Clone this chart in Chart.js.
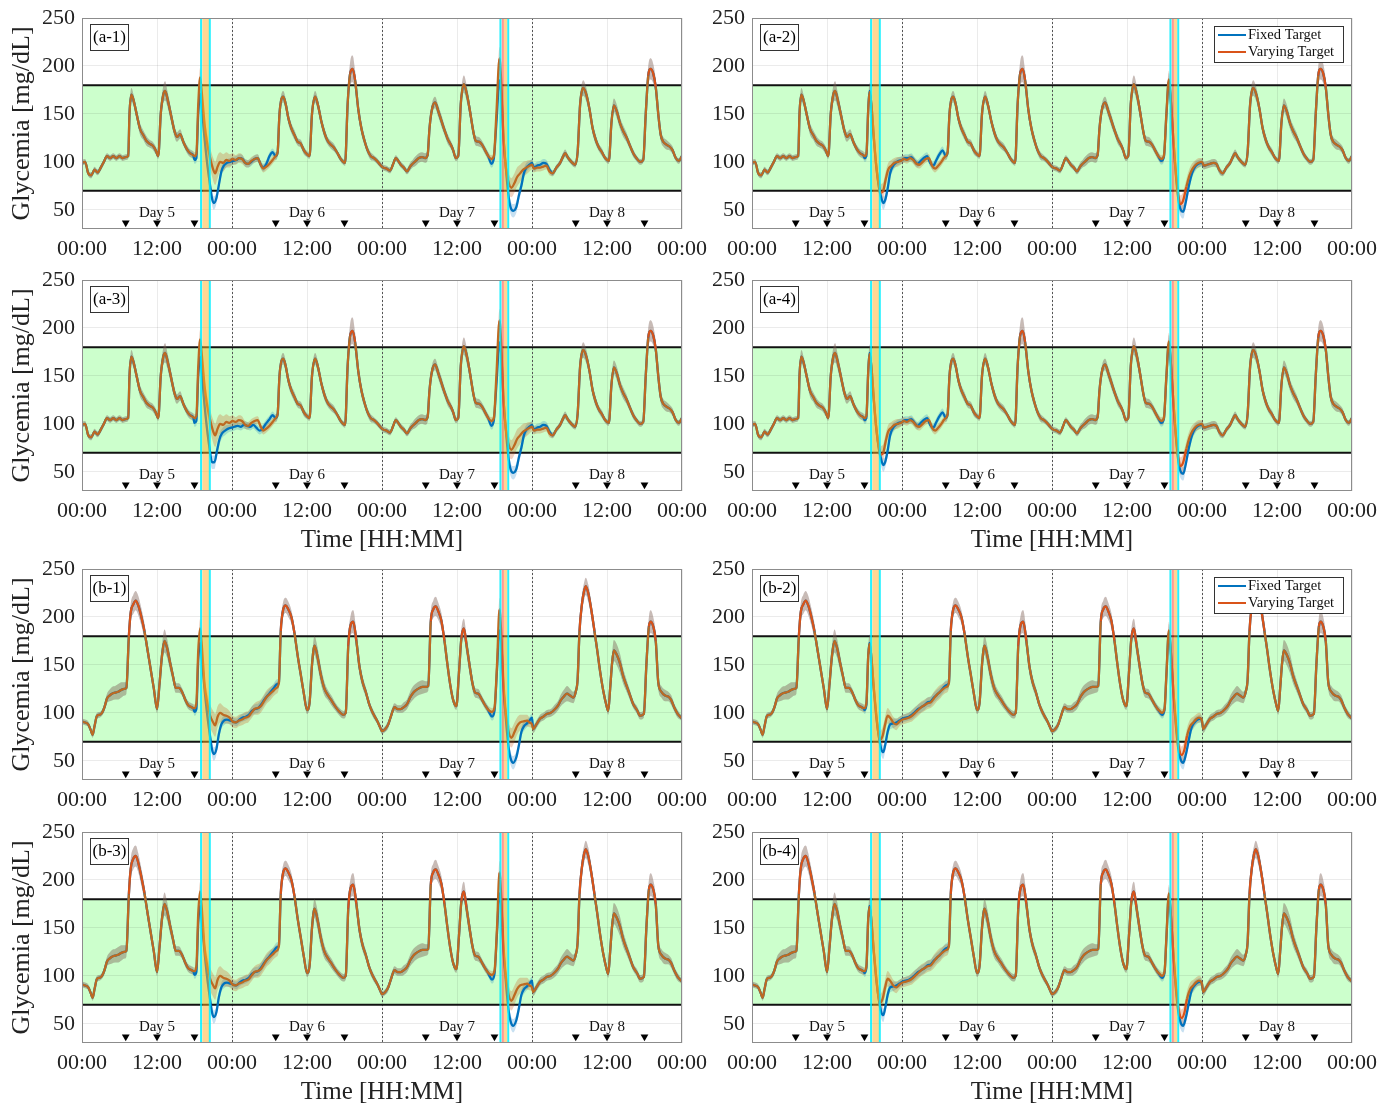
<!DOCTYPE html>
<html>
<head>
<meta charset="utf-8">
<script src="https://cdn.jsdelivr.net/npm/chart.js@4.4.0/dist/chart.umd.min.js"></script>
<style>
  body { margin: 0; background: #fff; width: 1390px; height: 1106px; overflow: hidden; position: relative; }
  canvas { position: absolute; }
</style>
</head>
<body>
<script>
// ---- axes ----
const xTickHours = [0, 12, 24, 36, 48, 60, 72, 84, 96];
const xTickLabels = ['00:00', '12:00', '00:00', '12:00', '00:00', '12:00', '00:00', '12:00', '00:00'];
const yTickValues = [50, 100, 150, 200, 250];
const midnightHours = [24, 48, 72];
const dayLabelHours = [12, 36, 60, 84];
const dayLabels = ['Day 5', 'Day 6', 'Day 7', 'Day 8'];
const mealHours = [7, 12, 18, 31, 36, 42, 55, 60, 66, 79, 84, 90];
const targetRange = [70, 180];

// exercise windows (hours)
const cyanEdges = [19.05, 20.45, 66.95, 68.2];
const amberSpans = [[19.25, 20.35], [67.5, 68.05]];
const redSpans = [[67.15, 67.5]];

// ---- glucose curves: [hour, mean, spread] ----
const scenarioA = [
  [0,99,3],[0.5,100,3],[1,88,3],[1.5,86,3],[2,92,3],[2.5,89,3],[3,94,3],[3.5,100,3],[4,106,3],[4.5,104,3],[5,106,3],[5.5,104,3],[6,106,3],[6.5,104,3],[7,105,3],[7.4,106,3],
  [7.6,150,5],[7.9,170,7],[8.3,163,6],[8.8,148,6],[9.3,134,6],[9.8,128,5],[10.3,122,5],[10.8,119,4],[11.3,117,4],[11.8,112,4],[12.2,106,3],
  [12.6,150,6],[13,170,9],[13.3,174,10],[13.7,165,8],[14.2,150,7],[14.8,132,6],[15.2,126,5],[15.7,129,5],[16.2,121,4],[16.8,113,4],[17.3,109,4],[17.8,107,4],
  [31,106,4],[31.3,110,4],[31.6,150,5],[32.2,168,6],[32.6,160,6],[33,146,6],[33.5,135,5],[34,128,5],[34.5,121,4],[35,119,4],[35.5,112,4],[36,108,3],[36.4,106,3],
  [36.8,150,5],[37.3,168,6],[37.8,158,6],[38.3,142,5],[38.8,130,5],[39.3,122,4],[39.8,118,4],[40.3,115,4],[40.8,110,3],[41.3,104,3],[41.8,100,3],[42.1,99,3],
  [42.5,160,8],[42.9,192,12],[43.3,197,14],[43.7,185,10],[44.2,155,7],[44.7,135,6],[45.2,122,5],[45.7,112,4],[46.2,106,4],[46.7,104,3],[47.2,101,3],[47.7,97,3],
  [48.2,94,3],[48.7,93,3],[49.3,91,3],[49.8,98,3],[50.2,104,3],[50.6,101,3],[51,97,3],[51.5,94,3],[52,90,3],[52.5,95,4],[52.9,98,4],[53.4,101,5],[53.9,104,5],[54.4,105,5],[54.9,104,5],[55.3,107,5],
  [55.6,135,6],[56,155,6],[56.5,162,6],[57,153,6],[57.5,143,6],[58,133,5],[58.5,124,5],[59,118,4],[59.4,112,4],[59.8,104,3],[60.2,106,3],
  [60.6,160,7],[61.1,181,9],[61.6,170,8],[62.1,152,7],[62.6,132,6],[63,122,5],[63.5,121,5],[64,118,4],[64.5,112,4],[65,106,4],
  [75.9,94,3],[76.5,99,3],[77,106,4],[77.3,109,4],[77.8,104,3],[78.3,100,3],[78.9,97,3],[79.3,110,4],
  [79.7,160,6],[80.2,177,8],[80.7,170,7],[81.2,155,6],[81.7,135,6],[82.2,123,5],[82.7,115,4],[83.2,110,4],[83.7,104,3],[84.3,101,3],
  [84.7,140,6],[85.1,159,7],[85.6,152,7],[86.1,140,6],[86.6,132,6],[87.1,126,5],[87.6,118,4],[88.2,109,4],[88.7,104,3],[89.3,100,3],[89.8,102,3],
  [90.2,150,7],[90.6,190,10],[91,197,11],[91.4,192,10],[91.8,178,8],[92.2,150,7],[92.6,128,6],[93,121,5],[93.5,118,5],[94,116,4],[94.5,112,4],[95,104,3],[95.5,101,3],[96,106,3]
];

const aLeftVar5 = [[18,106,4],[18.3,108,5],[18.6,160,8],[18.9,188,10],[19.2,170,9],[19.6,140,9],[20,120,10],[20.5,104,11],[21,92,12],[21.3,88,12],[21.7,95,12],[22.1,100,10],[22.6,99,9],[23.1,102,8],[23.6,101,7],[24.1,103,6],[24.6,102,5],[25.1,104,5],[25.6,103,5],[26.1,99,4],[26.6,98,4],[27.1,101,4],[27.6,103,4],[28.1,104,4],[28.6,97,4],[29,93,4],[29.5,95,4],[30,98,4],[30.5,102,4]];
const aLeftFix5 = [[18,102,4],[18.3,104,5],[18.6,150,7],[18.9,171,9],[19.2,155,9],[19.6,125,9],[20,100,9],[20.4,80,8],[20.8,62,7],[21.1,57,7],[21.5,62,6],[21.9,76,6],[22.3,90,5],[22.7,96,5],[23.2,99,4],[23.7,100,4],[24.2,101,4],[24.7,102,4],[25.2,104,4],[25.7,103,4],[26.1,99,4],[26.6,98,4],[27.1,100,4],[27.6,103,4],[28.1,104,4],[28.6,97,4],[29,94,4],[29.5,98,4],[30,106,4],[30.5,110,4]];
const a3Fix5 = [[18,101,4],[18.3,103,5],[18.6,150,7],[18.9,170,9],[19.2,152,9],[19.6,120,9],[20,95,9],[20.4,75,8],[20.8,60,7],[21.2,60,7],[21.6,72,6],[22,84,6],[22.4,90,5],[22.9,93,5],[23.4,95,4],[23.9,96,4],[24.4,97,4],[24.9,98,4],[25.4,97,4],[25.9,99,4],[26.4,98,4],[26.9,97,4],[27.4,99,4],[27.9,96,4],[28.4,93,4],[28.9,95,4],[29.4,100,4],[29.9,104,4],[30.5,109,4]];
const aLeftVar7 = [[65.5,103,4],[65.9,106,5],[66.3,150,8],[66.8,208,12],[67.1,180,11],[67.4,130,10],[67.8,95,10],[68.2,80,10],[68.7,73,10],[69.2,78,10],[69.6,84,10],[70.1,88,9],[70.6,92,8],[71.1,94,7],[71.6,96,6],[72,97,5],[72.3,93,4],[72.8,94,4],[73.3,94,4],[73.8,95,4],[74.3,96,4],[74.8,90,4],[75.3,88,3]];
const aLeftFix7 = [[65.5,98,4],[65.9,104,5],[66.3,140,7],[66.8,185,9],[67.1,170,9],[67.4,130,9],[67.8,95,9],[68.2,67,8],[68.6,52,7],[69,49,7],[69.5,53,6],[69.9,65,6],[70.3,75,6],[70.7,88,5],[71.1,94,5],[71.6,97,4],[72,99,4],[72.3,94,4],[72.8,96,4],[73.3,97,4],[73.8,99,4],[74.3,98,4],[74.8,92,4],[75.3,88,3]];
const aRightVar5 = [[18,106,4],[18.3,108,5],[18.6,155,7],[18.8,173,9],[19.1,160,9],[19.5,125,9],[19.9,95,9],[20.3,76,9],[20.7,68,9],[21,70,9],[21.4,82,8],[21.8,92,7],[22.3,96,6],[22.8,99,5],[23.3,100,5],[23.8,101,4],[24.3,103,4],[24.8,102,4],[25.3,104,4],[25.8,102,4],[26.3,98,4],[26.8,97,4],[27.3,100,4],[27.8,103,4],[28.3,104,4],[28.8,96,4],[29.3,93,4],[29.8,96,4],[30.3,100,4],[30.7,104,4]];
const aRightFix5 = [[18,104,4],[18.3,106,5],[18.6,155,7],[18.8,174,9],[19.1,160,9],[19.5,124,9],[19.9,94,8],[20.3,74,8],[20.7,62,7],[21,57,7],[21.3,60,6],[21.7,72,6],[22.1,88,5],[22.5,95,5],[23,99,4],[23.5,101,4],[24,102,4],[24.5,104,4],[25,104,4],[25.5,105,4],[26,101,4],[26.5,98,4],[27,101,4],[27.5,104,4],[28,106,4],[28.5,99,4],[29,96,4],[29.5,102,4],[30,108,4],[30.5,112,4]];
const aRightVar7 = [[65.5,103,4],[65.9,106,5],[66.3,150,7],[66.7,186,9],[67,165,9],[67.4,125,9],[67.8,90,9],[68.2,66,9],[68.6,56,9],[69,60,9],[69.5,74,8],[70,86,7],[70.5,93,6],[71,97,5],[71.5,99,5],[72,100,4],[72.3,96,4],[72.8,97,4],[73.3,98,4],[73.8,99,4],[74.3,98,4],[74.8,91,4],[75.3,88,3]];
const aRightFix7 = [[65.5,101,4],[65.9,105,5],[66.3,148,7],[66.7,184,9],[67,165,9],[67.4,125,9],[67.8,88,8],[68.2,62,8],[68.6,50,7],[69,48,7],[69.4,58,6],[69.9,75,6],[70.4,88,5],[70.9,95,5],[71.4,98,4],[72,99,4],[72.3,96,4],[72.8,97,4],[73.3,98,4],[73.8,99,4],[74.3,98,4],[74.8,91,4],[75.3,88,3]];

const scenarioB = [
  [0,91,3],[0.5,90,3],[1,88,3],[1.4,82,3],[1.7,77,3],[2,86,3],[2.4,97,3],[2.8,98,3],[3.2,100,3],[3.6,106,4],[4,115,5],[4.4,118,6],[4.8,120,7],[5.3,121,7],[5.8,122,8],[6.3,124,8],[6.8,125,7],[7.1,126,6],
  [7.5,180,8],[7.8,205,9],[8.2,213,10],[8.6,217,10],[9,212,10],[9.5,200,9],[10,185,8],[10.5,165,7],[11,145,6],[11.5,125,5],[12,104,4],
  [12.4,130,6],[12.8,160,10],[13.2,175,12],[13.6,168,10],[14.1,152,8],[14.6,137,6],[15,126,5],[15.5,126,5],[16,122,4],[16.5,114,4],[17,108,4],[17.5,106,4],[17.8,105,4],
  [31.5,131,5],[31.8,185,7],[32.2,208,8],[32.6,212,8],[33,208,8],[33.5,200,7],[34,183,7],[34.5,160,6],[35,140,6],[35.5,120,5],[36,103,4],
  [36.4,110,5],[36.8,150,8],[37.2,170,10],[37.7,158,10],[38.2,140,9],[38.8,125,7],[39.4,118,5],[40,112,5],[40.6,106,4],[41.2,101,4],[41.8,98,4],[42.2,100,4],
  [42.6,170,8],[43,192,10],[43.4,195,12],[43.9,175,10],[44.4,148,8],[44.9,132,6],[45.4,122,5],[46,108,4],[46.6,99,4],[47.2,92,3],[47.7,85,3],[48,81,3],[48.5,83,3],[49,88,4],[49.5,98,4],[50,106,4],
  [50.5,104,4],[51,104,4],[51.5,106,5],[52,109,5],[52.5,116,6],[53,121,7],[53.5,124,7],[54,126,7],[54.5,127,7],[55,127,6],[55.4,128,5],
  [55.8,195,8],[56.2,208,9],[56.6,211,10],[57,206,9],[57.5,196,8],[58,175,7],[58.4,154,6],[58.9,130,5],[59.4,113,4],[59.9,107,4],
  [60.3,140,7],[60.7,178,9],[61.1,188,10],[61.5,172,10],[62,150,9],[62.5,130,7],[62.9,121,5],[63.4,120,5],[63.9,115,4],[64.4,109,4],[64.9,104,4],
  [72.2,83,4],[72.7,88,4],[73.3,94,4],[73.8,96,4],[74.4,99,4],[75,100,4],[75.7,104,5],[76.2,108,5],[76.6,113,6],[77.1,117,7],[77.6,120,8],[78.1,118,7],[78.6,116,6],[79,122,5],[79.3,135,5],
  [79.6,185,8],[80,214,9],[80.3,226,9],[80.6,232,9],[81,225,9],[81.5,207,8],[82,185,8],[82.4,167,7],[82.9,143,6],[83.4,123,5],[83.9,108,4],[84.2,102,4],
  [84.5,125,7],[84.8,151,10],[85.1,165,11],[85.6,160,11],[86.1,151,10],[86.6,138,8],[87.2,127,6],[87.7,118,5],[88.2,109,4],[88.8,103,4],[89.3,97,4],[89.9,99,4],
  [90.3,150,8],[90.7,190,10],[91,195,12],[91.4,190,10],[91.8,175,8],[92.2,132,7],[92.7,122,6],[93.3,118,6],[93.8,117,5],[94.3,113,5],[94.8,105,4],[95.3,99,4],[95.7,96,3],[96,94,3]
];

// b-3 / b-4 first meal peaks a little higher
const bLatePeak = [[7.5,185,8],[7.8,212,10],[8.2,222,11],[8.6,225,11],[9,218,10],[9.5,203,9],[10,186,8],[10.5,165,7],[11,145,6],[11.5,125,5]];

const bLeftVar5 = [[18,105,4],[18.3,110,5],[18.6,165,8],[18.9,188,10],[19.2,168,10],[19.6,130,10],[20,112,11],[20.5,97,12],[21,90,12],[21.3,87,12],[21.7,96,11],[22.1,100,10],[22.6,98,9],[23.1,97,8],[23.6,95,7],[24.1,91,6],[24.6,90,6],[25.1,92,6],[25.6,93,6],[26.1,95,6],[26.6,96,6],[27.1,100,6],[27.6,104,6],[28.1,105,7],[28.6,107,7],[29.1,112,7],[29.6,117,7],[30.1,120,7],[30.6,123,6],[31.1,126,6]];
const bLeftFix5 = [[18,101,4],[18.3,104,5],[18.6,155,7],[18.9,173,9],[19.2,155,9],[19.6,125,9],[20,100,9],[20.4,80,8],[20.8,62,7],[21.1,57,7],[21.5,62,6],[21.9,78,6],[22.3,88,5],[22.7,92,5],[23.2,93,4],[23.7,92,4],[24.2,91,4],[24.7,90,4],[25.2,93,4],[25.7,95,4],[26.2,96,4],[26.7,98,4],[27.2,102,5],[27.7,104,5],[28.2,105,5],[28.7,109,5],[29.2,114,5],[29.7,118,5],[30.2,122,5],[30.7,126,5],[31.2,130,5]];
const bLeftVar7 = [[65.2,102,4],[65.6,101,4],[66,105,5],[66.4,150,8],[66.8,208,12],[67.1,180,11],[67.4,135,10],[67.8,100,10],[68.2,82,10],[68.7,74,10],[69.2,80,10],[69.6,86,9],[70.1,90,8],[70.6,91,7],[71.2,92,6],[71.6,90,5],[72,88,4]];
const bLeftFix7 = [[65.2,100,4],[65.6,96,4],[66,102,5],[66.4,145,7],[66.8,186,9],[67.1,172,9],[67.4,130,9],[67.8,95,9],[68.2,67,8],[68.6,52,7],[69,48,7],[69.5,54,6],[69.9,66,6],[70.3,80,5],[70.7,86,5],[71.2,89,4],[71.6,92,4],[72,95,4]];
const bRightVar5 = [[18,105,4],[18.3,110,5],[18.6,160,7],[18.8,172,9],[19.1,158,9],[19.5,125,9],[19.9,97,9],[20.2,80,9],[20.5,72,9],[20.9,76,9],[21.3,88,8],[21.7,97,8],[22.1,95,7],[22.6,90,6],[23.1,88,6],[23.6,91,5],[24.1,93,5],[24.6,94,5],[25.1,95,5],[25.6,97,6],[26.1,100,6],[26.6,103,6],[27.1,106,6],[27.6,108,6],[28.1,110,6],[28.6,111,6],[29.1,115,7],[29.6,119,7],[30.1,122,7],[30.6,125,6],[31.1,127,6]];
const bRightFix5 = [[18,103,4],[18.3,108,5],[18.6,160,7],[18.8,173,9],[19.1,158,9],[19.5,124,9],[19.9,95,8],[20.3,75,8],[20.7,62,7],[21,59,7],[21.3,66,6],[21.7,80,6],[22.1,88,5],[22.6,89,5],[23.1,90,4],[23.6,92,4],[24.1,94,4],[24.6,95,4],[25.1,96,4],[25.6,98,5],[26.1,101,5],[26.6,104,5],[27.1,106,5],[27.6,108,5],[28.1,111,5],[28.6,112,5],[29.1,116,5],[29.6,119,5],[30.1,122,5],[30.6,126,5],[31.1,129,5]];
const bRightVar7 = [[65.2,102,4],[65.6,100,4],[66,104,5],[66.3,140,7],[66.7,186,9],[67,165,9],[67.4,125,9],[67.8,92,9],[68.2,68,9],[68.75,56,9],[69.2,62,9],[69.6,76,8],[70.1,86,7],[70.6,90,6],[71,93,5],[71.5,95,5],[72,92,4]];
const bRightFix7 = [[65.2,101,4],[65.6,98,4],[66,103,5],[66.3,138,7],[66.7,184,9],[67,165,9],[67.4,124,9],[67.8,88,8],[68.2,63,8],[68.6,51,7],[69,48,7],[69.4,56,6],[69.9,72,6],[70.3,84,5],[70.8,90,5],[71.3,93,4],[71.8,94,4],[72,91,4]];

// ---- panels ----
const panels = [
  { label: '(a-1)', row: 0, col: 0, base: scenarioA, fixed: [aLeftFix5, aLeftFix7], varying: [aLeftVar5, aLeftVar7] },
  { label: '(a-2)', row: 0, col: 1, base: scenarioA, fixed: [aRightFix5, aRightFix7], varying: [aRightVar5, aRightVar7], legend: true },
  { label: '(a-3)', row: 1, col: 0, base: scenarioA, fixed: [a3Fix5, aLeftFix7], varying: [aLeftVar5, aLeftVar7] },
  { label: '(a-4)', row: 1, col: 1, base: scenarioA, fixed: [aRightFix5, aRightFix7], varying: [aRightVar5, aRightVar7] },
  { label: '(b-1)', row: 2, col: 0, base: scenarioB, fixed: [bLeftFix5, bLeftFix7], varying: [bLeftVar5, bLeftVar7] },
  { label: '(b-2)', row: 2, col: 1, base: scenarioB, fixed: [bRightFix5, bRightFix7], varying: [bRightVar5, bRightVar7], legend: true },
  { label: '(b-3)', row: 3, col: 0, base: scenarioB, fixed: [bLatePeak, bLeftFix5, bLeftFix7], varying: [bLatePeak, bLeftVar5, bLeftVar7] },
  { label: '(b-4)', row: 3, col: 1, base: scenarioB, fixed: [bLatePeak, bRightFix5, bRightFix7], varying: [bLatePeak, bRightVar5, bRightVar7] }
];

const plotTops = [18, 280, 569, 832];
const PLOT_H = 211;
const PAD_TOP = 22;
const FONT = 'Liberation Serif';
const BLUE = '#0072BD';
const ORANGE = '#D95319';
const OCHRE = '#BD6A22';

function mergeSeries(base, segments) {
  let out = base.slice();
  for (const seg of segments) {
    const t0 = seg[0][0], t1 = seg[seg.length - 1][0];
    out = out.filter(p => p[0] < t0 || p[0] > t1).concat(seg);
  }
  return out.sort((a, b) => a[0] - b[0]);
}
const mid = s => s.map(p => ({ x: p[0], y: p[1] }));
const upper = s => s.map(p => ({ x: p[0], y: p[1] + p[2] }));
const lower = s => s.map(p => ({ x: p[0], y: p[1] - p[2] }));

const panelPlugin = {
  id: 'panelDecor',
  beforeDraw(chart) {
    const { ctx, chartArea: a, scales: { y } } = chart;
    ctx.save();
    ctx.fillStyle = '#CCFFCC';
    const yt = y.getPixelForValue(targetRange[1]), yb = y.getPixelForValue(targetRange[0]);
    ctx.fillRect(a.left, yt, a.right - a.left, yb - yt);
    ctx.restore();
  },
  beforeDatasetsDraw(chart) {
    const { ctx, chartArea: a, scales: { x, y } } = chart;
    ctx.save();
    ctx.strokeStyle = '#555';
    ctx.lineWidth = 1;
    ctx.setLineDash([2, 2]);
    midnightHours.forEach(h => {
      const px = Math.round(x.getPixelForValue(h)) + 0.5;
      ctx.beginPath(); ctx.moveTo(px, a.top); ctx.lineTo(px, a.bottom); ctx.stroke();
    });
    ctx.setLineDash([]);
    ctx.strokeStyle = '#111';
    ctx.lineWidth = 2;
    targetRange.forEach(v => {
      const py = y.getPixelForValue(v);
      ctx.beginPath(); ctx.moveTo(a.left, py); ctx.lineTo(a.right, py); ctx.stroke();
    });
    ctx.restore();
  },
  afterDatasetsDraw(chart) {
    const { ctx, chartArea: a, scales: { x, y } } = chart;
    const p = chart.options.plugins.panelDecor;
    ctx.save();
    // exercise windows
    amberSpans.forEach(([s, e]) => {
      ctx.fillStyle = 'rgba(255,175,40,0.5)';
      const x0 = x.getPixelForValue(s), x1 = x.getPixelForValue(e);
      ctx.fillRect(x0, a.top, x1 - x0, a.bottom - a.top);
    });
    redSpans.forEach(([s, e]) => {
      ctx.fillStyle = 'rgba(255,70,60,0.55)';
      const x0 = x.getPixelForValue(s), x1 = x.getPixelForValue(e);
      ctx.fillRect(x0, a.top, x1 - x0, a.bottom - a.top);
    });
    ctx.strokeStyle = 'rgba(0,240,255,0.85)';
    ctx.lineWidth = 2;
    cyanEdges.forEach(h => {
      const px = x.getPixelForValue(h);
      ctx.beginPath(); ctx.moveTo(px, a.top); ctx.lineTo(px, a.bottom); ctx.stroke();
    });
    // frame
    ctx.strokeStyle = '#8c8c8c';
    ctx.lineWidth = 1;
    ctx.strokeRect(a.left + 0.5, a.top + 0.5, a.right - a.left - 1, a.bottom - a.top - 1);
    // day labels
    ctx.fillStyle = '#111';
    ctx.font = `15px "${FONT}"`;
    ctx.textAlign = 'center';
    ctx.textBaseline = 'middle';
    dayLabelHours.forEach((h, i) => ctx.fillText(dayLabels[i], x.getPixelForValue(h), y.getPixelForValue(47)));
    // panel label
    ctx.fillStyle = '#fff';
    ctx.fillRect(a.left + 8, a.top + 6, 38, 26);
    ctx.strokeStyle = '#333';
    ctx.strokeRect(a.left + 8.5, a.top + 6.5, 38, 26);
    ctx.fillStyle = '#000';
    ctx.font = `17px "${FONT}"`;
    ctx.fillText(p.label, a.left + 27.5, a.top + 20);
    // legend
    if (p.legend) {
      const lx = a.right - 138, ly = a.top + 8;
      ctx.fillStyle = '#fff';
      ctx.fillRect(lx, ly, 129, 36);
      ctx.strokeStyle = '#333';
      ctx.strokeRect(lx + 0.5, ly + 0.5, 129, 36);
      ctx.lineWidth = 2;
      [[BLUE, 'Fixed Target', 9], [ORANGE, 'Varying Target', 26]].forEach(([c, t, dy]) => {
        ctx.strokeStyle = c;
        ctx.beginPath(); ctx.moveTo(lx + 4, ly + dy); ctx.lineTo(lx + 32, ly + dy); ctx.stroke();
        ctx.fillStyle = '#111';
        ctx.font = `14.5px "${FONT}"`;
        ctx.textAlign = 'left';
        ctx.fillText(t, lx + 34, ly + dy);
      });
    }
    ctx.restore();
  }
};

panels.forEach(p => {
  const hasXTitle = p.row === 1 || p.row === 3;
  const left = p.col === 0 ? 0 : 700;
  const width = p.col === 0 ? 720 : 690;
  const xAxisH = hasXTitle ? 66 : 34;
  const top = plotTops[p.row] - PAD_TOP;
  const height = PAD_TOP + PLOT_H + xAxisH;

  const canvas = document.createElement('canvas');
  canvas.width = width; canvas.height = height;
  canvas.style.left = left + 'px'; canvas.style.top = top + 'px';
  canvas.style.width = width + 'px'; canvas.style.height = height + 'px';
  document.body.appendChild(canvas);

  const fixed = mergeSeries(p.base, p.fixed);
  const varying = mergeSeries(p.base, p.varying);
  const lineOpts = { pointRadius: 0, cubicInterpolationMode: 'monotone' };
  const inRange = ctx => {
    const v = (ctx.p0.parsed.y + ctx.p1.parsed.y) / 2;
    return v > targetRange[0] && v < targetRange[1];
  };

  new Chart(canvas, {
    type: 'line',
    data: {
      datasets: [
        { data: mid(varying), borderColor: ORANGE, borderWidth: 2.3, fill: false,
          segment: { borderColor: c => inRange(c) ? OCHRE : ORANGE }, ...lineOpts },
        { data: mid(fixed), borderColor: BLUE, borderWidth: 2.3, fill: false, ...lineOpts },
        { data: upper(varying), borderWidth: 0, fill: '+1', backgroundColor: 'rgba(200,90,30,0.28)', ...lineOpts },
        { data: lower(varying), borderWidth: 0, fill: false, ...lineOpts },
        { data: upper(fixed), borderWidth: 0, fill: '+1', backgroundColor: 'rgba(0,114,189,0.22)', ...lineOpts },
        { data: lower(fixed), borderWidth: 0, fill: false, ...lineOpts },
        { type: 'scatter', data: mealHours.map(h => ({ x: h, y: 36.5 })), pointStyle: 'triangle', pointRotation: 180,
          pointRadius: 4.5, pointBackgroundColor: '#000', pointBorderColor: '#000', pointBorderWidth: 0 }
      ]
    },
    options: {
      responsive: false,
      animation: false,
      events: [],
      layout: { padding: { top: PAD_TOP, right: 38, left: 0, bottom: 0 } },
      plugins: { legend: { display: false }, tooltip: { enabled: false }, panelDecor: { label: p.label, legend: !!p.legend } },
      scales: {
        x: {
          type: 'linear', min: 0, max: 96,
          afterBuildTicks: s => { s.ticks = xTickHours.map(v => ({ value: v })); },
          afterFit: s => { s.height = xAxisH; },
          ticks: {
            autoSkip: false, maxRotation: 0, padding: 7, color: '#222',
            font: { family: FONT, size: 22 },
            callback: (v, i) => xTickLabels[i]
          },
          grid: { color: 'rgba(0,0,0,0.08)', drawTicks: false },
          border: { display: false },
          title: { display: hasXTitle, text: 'Time [HH:MM]', color: '#222', font: { family: FONT, size: 25 }, padding: { top: 0, bottom: 2 } }
        },
        y: {
          min: 30, max: 250,
          afterBuildTicks: s => { s.ticks = yTickValues.map(v => ({ value: v })); },
          afterFit: s => { s.width = p.col === 0 ? 82 : 52; },
          ticks: { padding: 7, color: '#222', font: { family: FONT, size: 22 } },
          grid: { color: 'rgba(0,0,0,0.08)', drawTicks: false },
          border: { display: false },
          title: { display: p.col === 0, text: 'Glycemia [mg/dL]', color: '#222', font: { family: FONT, size: 26 }, padding: { top: 7, bottom: 0 } }
        }
      }
    },
    plugins: [panelPlugin]
  });
});
</script>
</body>
</html>
